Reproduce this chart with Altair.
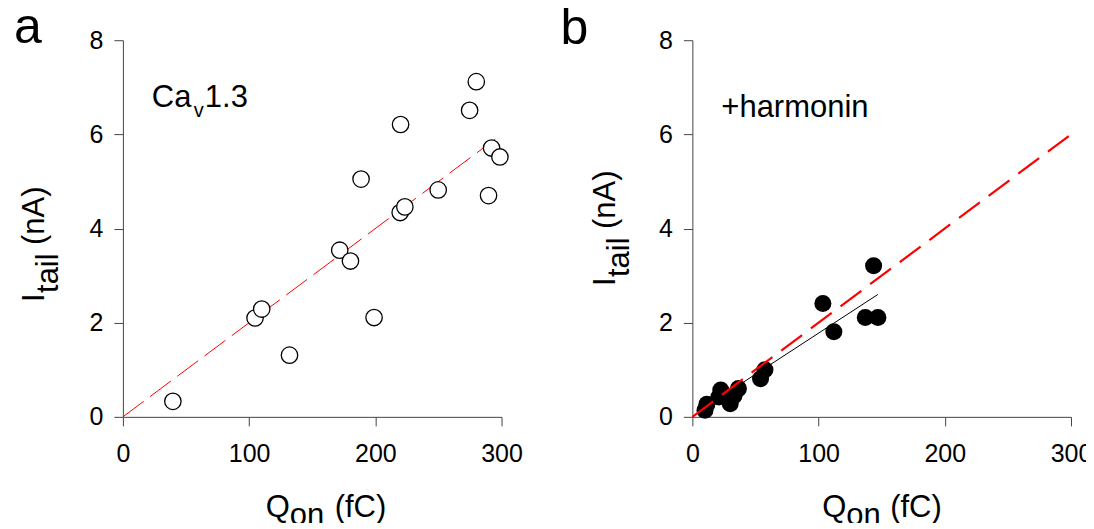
import altair as alt
import pandas as pd

FONT = "Liberation Sans"

# ---------------- data ----------------
# panel a : Cav1.3 (open circles)
a_q = [39.6, 104.7, 110.0, 132.0, 171.8, 180.3, 188.7, 199.0, 220.0, 219.7,
       223.4, 249.8, 274.7, 280.0, 289.7, 292.1, 298.7]
a_i = [0.33, 2.10, 2.29, 1.31, 3.54, 3.31, 5.05, 2.11, 6.21, 4.34,
       4.46, 4.82, 6.51, 7.12, 4.70, 5.71, 5.52]
a_fit_q = [0, 295]
a_fit_i = [0, 5.9]

# panel b : +harmonin (filled circles)
b_q = [10, 11.5, 21, 22.5, 30, 33, 36.5, 54, 57.5, 103.4, 112.1, 137, 147, 143.6]
b_i = [0.14, 0.27, 0.42, 0.57, 0.28, 0.45, 0.60, 0.81, 1.00, 2.41, 1.81, 2.11, 2.11, 3.21]
b_ctrl_q = [0, 300]
b_ctrl_i = [0, 6.0]
b_fit_q = [8, 147]
b_fit_i = [0.17, 2.6]

x_ticks = [0, 100, 200, 300]
y_ticks = [0, 2, 4, 6, 8]

W, H = 379, 377

xs = alt.Scale(domain=[0, 300], nice=False, zero=False)
ys = alt.Scale(domain=[0, 8], nice=False)


def X():
    return alt.X("q:Q", scale=xs, title=None, axis=alt.Axis(values=x_ticks, grid=False))


def Y():
    return alt.Y("i:Q", scale=ys, title=None, axis=alt.Axis(values=y_ticks, grid=False))


def df(q, i):
    return pd.DataFrame({"q": q, "i": i})


def txt(s, x, y, size, angle=0):
    return alt.Chart(pd.DataFrame({"t": [s]})).mark_text(
        align="left", baseline="alphabetic", font=FONT, fontSize=size,
        angle=angle, color="black"
    ).encode(text="t:N", x=alt.value(x), y=alt.value(y))


# ---------------- panel a ----------------
line_a = alt.Chart(df(a_fit_q, a_fit_i)).mark_line(
    color="#ff0000", strokeWidth=1, strokeDash=[26, 8]
).encode(x=X(), y=Y())

pts_a = alt.Chart(df(a_q, a_i)).mark_circle(
    size=270, fill="white", stroke="black", strokeWidth=1.3, opacity=1
).encode(x=X(), y=Y())

panel_a = alt.layer(
    line_a, pts_a,
    txt("a", -109, 3, 50),
    txt("Ca", 29, 67, 31), txt("v", 71, 77, 20), txt("1.3", 82, 67, 31),
    txt("I", -79, 262, 31, 270), txt("tail", -65, 253, 31, 270), txt("(nA)", -79, 205, 31, 270),
    txt("Q", 143, 477, 31), txt("on", 167, 485, 31), txt("(fC)", 212, 477, 31),
).properties(width=W, height=H)

# ---------------- panel b ----------------
fit_b = alt.Chart(df(b_fit_q, b_fit_i)).mark_line(
    color="black", strokeWidth=1
).encode(x=X(), y=Y())

pts_b = alt.Chart(df(b_q, b_i)).mark_circle(
    size=290, color="black", opacity=1
).encode(x=X(), y=Y())

ctrl_b = alt.Chart(df(b_ctrl_q, b_ctrl_i)).mark_line(
    color="#ff0000", strokeWidth=2.2, strokeDash=[26, 11]
).encode(x=X(), y=Y())

panel_b = alt.layer(
    fit_b, pts_b, ctrl_b,
    txt("b", -132, 4, 50),
    txt("+harmonin", 29, 77, 31),
    txt("I", -77, 246, 31, 270), txt("tail", -63, 237, 31, 270), txt("(nA)", -77, 189, 31, 270),
    txt("Q", 130, 477, 31), txt("on", 154, 485, 31), txt("(fC)", 198, 477, 31),
).properties(width=W, height=H)

chart = alt.hconcat(panel_a, panel_b, spacing=191, bounds="flush").properties(
    padding={"left": 5, "top": -6, "right": -7, "bottom": -9}
).configure_view(
    stroke="transparent"
).configure_axis(
    domainColor="#444444", tickColor="#444444", domainWidth=1, tickWidth=1,
    tickSize=9, labelFont=FONT, labelFontSize=25, labelColor="black",
    labelFlush=False, labelOverlap=False, grid=False
).configure_axisX(
    labelPadding=16
).configure_axisY(
    labelPadding=11
)

chart.save("out.html", embed_options={"renderer": "svg", "actions": False})
